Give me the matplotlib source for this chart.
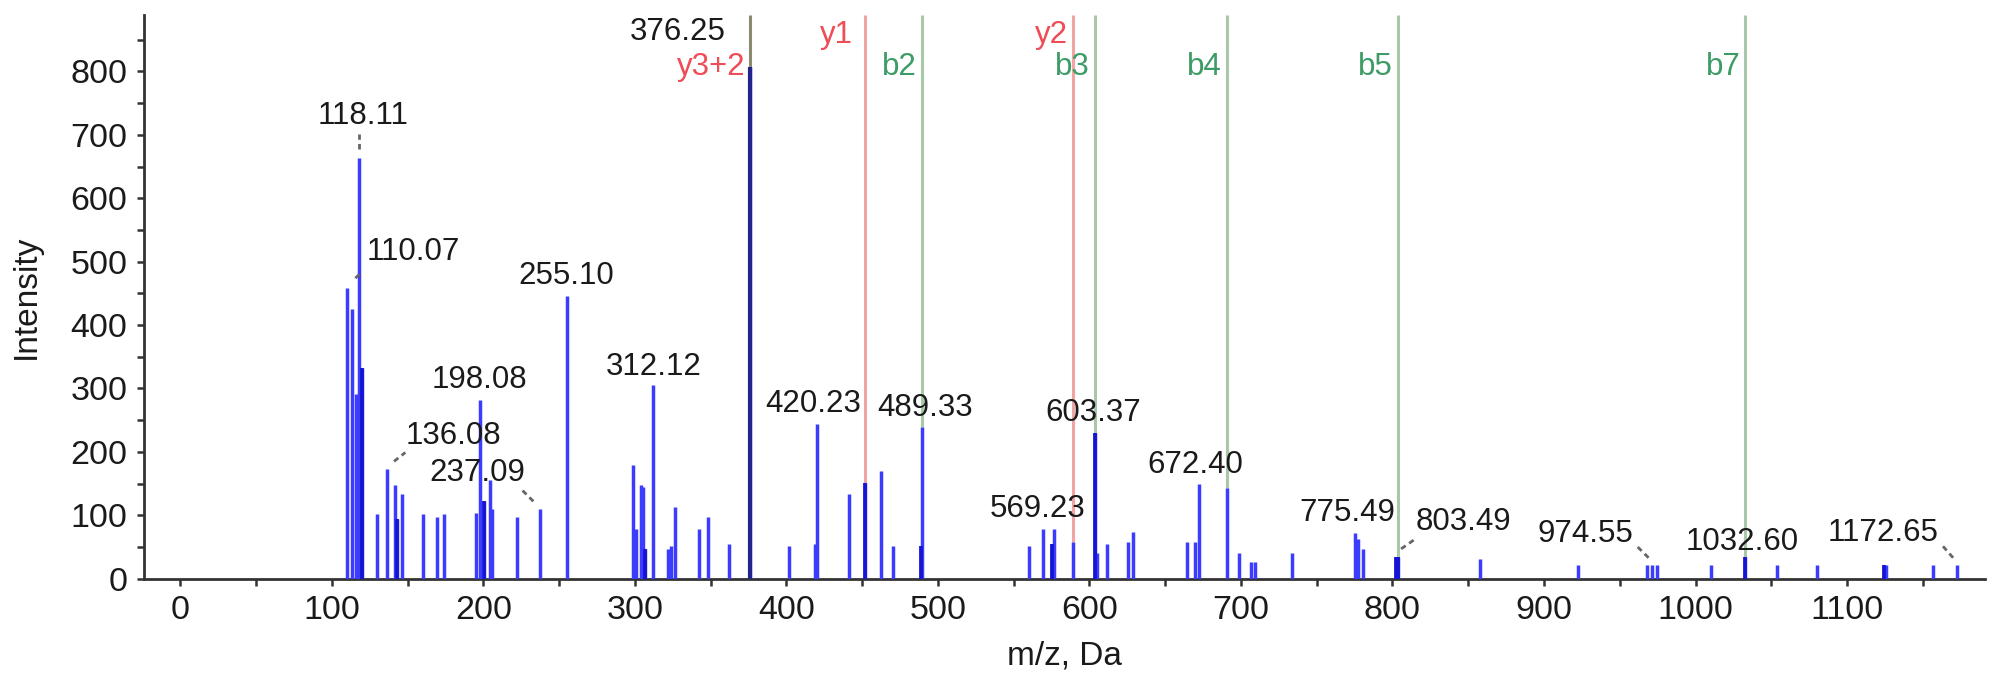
import numpy as np
import matplotlib
matplotlib.use("Agg")
import matplotlib.pyplot as plt

plt.rcParams['font.family'] = ['Liberation Sans', 'DejaVu Sans']

# spectrum peaks (m/z, intensity)
mz = [110.07, 113.5, 116.0, 118.11, 120.1, 130.1, 136.08, 141.5, 143.0, 146.5,
      160.1, 169.1, 174.1, 195.1, 198.08, 200.1, 204.1, 205.6, 222.1, 237.09,
      255.10, 298.5, 300.6, 304.0, 305.6, 306.5, 312.12, 321.8, 324.0, 326.5,
      342.4, 348.0, 362.4, 376.25, 401.8, 418.8, 420.23, 441.0, 452.0, 462.4,
      470.3, 488.8, 489.33, 560.0, 569.23, 575.3, 576.8, 589.0, 603.37, 605.0,
      611.5, 625.6, 629.0, 664.4, 669.5, 672.40, 690.5, 699.0, 706.5, 709.5,
      734.0, 775.49, 777.5, 780.5, 802.5, 803.49, 858.0, 922.5, 968.0, 971.5,
      974.55, 1010.5, 1032.60, 1053.5, 1080.0, 1124.5, 1125.5, 1156.5, 1172.65]
intensity = [459, 426, 292, 663, 333, 102, 173, 148, 94, 133,
             102, 98, 102, 104, 282, 122, 155, 110, 98, 110,
             446, 180, 79, 148, 144, 47, 306, 47, 52, 113,
             79, 98, 55, 807, 52, 55, 244, 134, 151, 170,
             52, 52, 240, 52, 79, 55, 79, 58, 229, 40,
             55, 58, 74, 58, 58, 149, 143, 40, 27, 27,
             40, 72, 62, 47, 34, 34, 31, 21, 21, 21,
             21, 21, 34, 21, 21, 22, 22, 21, 21]

# peaks drawn darker (overlapping / matched)
dark_mz = [120.1, 143.0, 200.1, 306.5, 452.0, 488.8, 575.3, 603.37, 802.5, 803.49, 1032.60, 1124.5]
navy_mz = [376.25]

# fragment ion lines
frag_labels = ["y3+2", "y1", "b2", "y2", "b3", "b4", "b5", "b7"]
frag_mz = [376.25, 452.0, 489.33, 589.0, 603.37, 690.5, 803.49, 1032.60]
frag_type = ["yb", "y", "b", "y", "b", "b", "b", "b"]

# peak labels: text, x, y of text, leader start/end (None = no leader)
peak_labels = ["118.11", "110.07", "255.10", "198.08", "136.08", "237.09", "312.12",
               "376.25", "420.23", "489.33", "603.37", "569.23", "672.40", "775.49",
               "803.49", "974.55", "1032.60", "1172.65"]
label_x = [120.6, 123.0, 254.4, 197.6, 180.0, 196.0, 312.4,
           328.0, 417.4, 491.8, 602.4, 566.0, 670.0, 770.0,
           847.0, 927.0, 1031.0, 1124.0]
label_y = [730, 516, 477, 314, 225, 166, 334,
           862, 275, 269, 261, 110, 179, 103,
           89, 70, 58, 72]
leaders = [((118.11, 678), (118.11, 702)),
           ((115.5, 474), (120.0, 484)),
           None, None,
           ((141.0, 185), (148.5, 199)),
           ((233.0, 122), (225.0, 141)),
           None, None, None, None, None, None, None, None,
           ((805.7, 47), (814.7, 62)),
           ((969.0, 33), (961.0, 52)),
           None,
           ((1170.0, 33), (1163.0, 52))]

ytop = 889

fig = plt.figure(figsize=(20.08, 6.82), dpi=100)
ax = fig.add_axes([0.0717, 0.1515, 0.9168, 0.8265])

mz_arr = np.array(mz)
int_arr = np.array(intensity)

ax.vlines(mz_arr, 0, int_arr, colors='#3c3cff', linewidth=2.5, zorder=3)
dmask = np.isin(mz_arr, dark_mz)
ax.vlines(mz_arr[dmask], 0, int_arr[dmask], colors='#1414d2', linewidth=2.7, zorder=4)
nmask = np.isin(mz_arr, navy_mz)
ax.vlines(mz_arr[nmask], 0, int_arr[nmask], colors='#23238c', linewidth=3.0, zorder=4)

line_colors = {"y": "#f0a4a4", "b": "#a8c9a8", "yb": "#8c8a6e"}
text_colors = {"y": "#ee4c56", "b": "#3d9c66", "yb": "#ee4c56"}
for lab, x, t in zip(frag_labels, frag_mz, frag_type):
    bottom = int_arr[np.argmin(np.abs(mz_arr - x))]
    ax.vlines(x, bottom, ytop, colors=line_colors[t], linewidth=2.2, zorder=2)
    ty = 857 if t == "y" else 807
    off = 8 if lab == "y1" else 3
    ax.text(x - off, ty, lab, color=text_colors[t], fontsize=22.5, ha='right', va='center', zorder=5)

for lab, x, y, ld in zip(peak_labels, label_x, label_y, leaders):
    ha = 'left' if lab == "110.07" else 'center'
    ax.text(x, y, lab, color='#1a1a1a', fontsize=22.5, ha=ha, va='center', zorder=6)
    if ld is not None:
        ax.plot([ld[0][0], ld[1][0]], [ld[0][1], ld[1][1]], color='#666666',
                linestyle=(0, (2, 1.5)), linewidth=2, zorder=5)

ax.set_xlim(-24, 1191)
ax.set_ylim(0, ytop)
ax.set_xticks(np.arange(0, 1101, 100))
ax.set_xticks(np.arange(50, 1151, 100), minor=True)
ax.set_yticks(np.arange(0, 801, 100))
ax.set_yticks(np.arange(50, 851, 100), minor=True)

for s in ['top', 'right']:
    ax.spines[s].set_visible(False)
for s in ['left', 'bottom']:
    ax.spines[s].set_color('#333333')
    ax.spines[s].set_linewidth(2)

ax.tick_params(which='both', direction='out', length=5, width=1.8, color='#333333',
               labelsize=24.5, labelcolor='#1a1a1a', pad=7)

ax.set_xlabel("m/z, Da", fontsize=24, color='#1a1a1a')
ax.set_ylabel("Intensity", fontsize=24, color='#1a1a1a')
ax.xaxis.set_label_coords(0.5, -0.137)
ax.xaxis.label.set_va('center')
ax.yaxis.set_label_coords(-0.064, 0.5)
ax.yaxis.label.set_va('center')

fig.savefig("out.png", dpi=100)
